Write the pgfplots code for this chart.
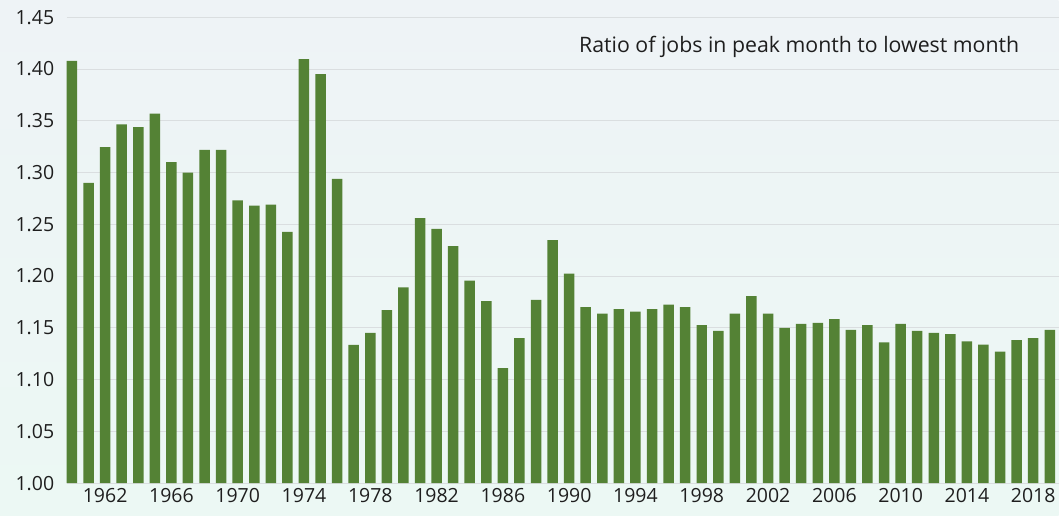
\documentclass[border=0pt]{standalone}
\usepackage{pgfplots}
\pgfplotsset{compat=1.18}
\usepackage{fontspec}
\setmainfont{Open Sans}
\definecolor{barg}{RGB}{84,130,53}
\definecolor{bgtop}{RGB}{238,243,246}
\definecolor{bgbot}{RGB}{236,248,244}
\definecolor{gridc}{RGB}{218,222,224}
\definecolor{txt}{RGB}{30,30,30}
\begin{document}
\begin{tikzpicture}[x=1bp,y=1bp]
\shade[top color=bgtop, bottom color=bgbot] (0,0) rectangle (1059,516);
\begin{axis}[
  at={(66.7bp,32.7bp)}, anchor=south west,
  scale only axis, width=992.3bp, height=466bp,
  xmin=1959.68, xmax=2019.53,
  ymin=1.0, ymax=1.45,
  ytick={1.00,1.05,...,1.46},
  xtick={1962,1966,...,2018},
  ymajorgrids, grid style={gridc, line width=0.9bp},
  axis line style={draw=none},
  major tick length=0pt,
  ybar, bar width=10.5bp, bar shift=0pt,
  /pgf/number format/assume math mode=true,
  yticklabel style={/pgf/number format/fixed, /pgf/number format/fixed zerofill, /pgf/number format/precision=2, font=\fontsize{19.5bp}{22bp}\selectfont, text=txt, xshift=-9bp},
  xticklabel style={/pgf/number format/1000 sep=, font=\fontsize{19.5bp}{22bp}\selectfont, text=txt, yshift=-2bp},
  clip=false,
]
\addplot[fill=barg, draw=none] coordinates {
(1960,1.408) (1961,1.290) (1962,1.3246) (1963,1.3465) (1964,1.344) (1965,1.357)
(1966,1.310) (1967,1.300) (1968,1.322) (1969,1.322) (1970,1.273) (1971,1.268)
(1972,1.269) (1973,1.2426) (1974,1.4096) (1975,1.395) (1976,1.294) (1977,1.1335)
(1978,1.145) (1979,1.167) (1980,1.189) (1981,1.256) (1982,1.2455) (1983,1.229)
(1984,1.1956) (1985,1.1757) (1986,1.111) (1987,1.140) (1988,1.177) (1989,1.2346)
(1990,1.2023) (1991,1.170) (1992,1.1637) (1993,1.168) (1994,1.1656) (1995,1.168)
(1996,1.1724) (1997,1.170) (1998,1.1525) (1999,1.147) (2000,1.1637) (2001,1.1805)
(2002,1.1637) (2003,1.150) (2004,1.1538) (2005,1.1547) (2006,1.1583) (2007,1.148)
(2008,1.1525) (2009,1.136) (2010,1.1538) (2011,1.147) (2012,1.145) (2013,1.1438)
(2014,1.137) (2015,1.1338) (2016,1.127) (2017,1.138) (2018,1.140) (2019,1.148)
};
\node[text=txt, font=\fontsize{21.3bp}{25bp}\selectfont, inner sep=0pt] at (axis cs:2003.88,1.4215) {Ratio of jobs in peak month to lowest month};
\end{axis}
\end{tikzpicture}
\end{document}
